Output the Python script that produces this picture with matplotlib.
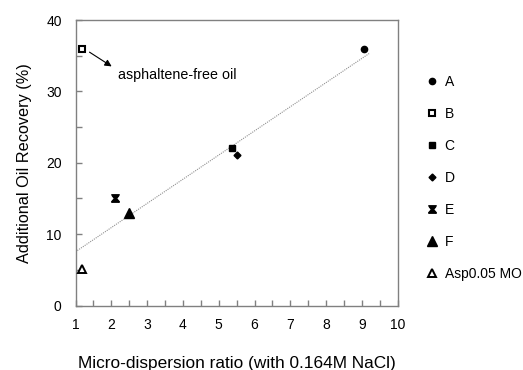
import matplotlib
matplotlib.use("Agg")
import matplotlib.pyplot as plt
from matplotlib.ticker import MultipleLocator
from matplotlib.path import Path

plt.rcParams['font.family'] = ['Liberation Sans', 'DejaVu Sans']

labels = ["A", "B", "C", "D", "E", "F", "Asp0.05 MO"]
x_vals = [9.07, 1.19, 5.37, 5.5, 2.10, 2.49, 1.19]
y_vals = [36.0, 36.0, 22.0, 21.1, 15.0, 13.0, 5.07]

trend_x = [1.05, 9.2]
trend_y = [7.7, 35.3]

arrow_start = (1.39, 35.5)
arrow_end = (2.01, 33.5)
note_pos = (2.18, 32.3)
note_text = "asphaltene-free oil"

xticks = list(range(1, 11))
yticks = [0, 10, 20, 30, 40]

bowx = Path([(-1, 1), (1, 1), (0.8, 0.6), (0.3, 0), (1, -0.8), (1, -1), (-1, -1), (-1, -0.8),
             (-0.3, 0), (-0.8, 0.6), (-1, 1)],
            [Path.MOVETO] + [Path.LINETO] * 9 + [Path.CLOSEPOLY])

styles = [
    dict(marker='o', ms=4.5, mfc='black', mec='black'),
    dict(marker='s', ms=4.2, mfc='white', mec='black', mew=1.5),
    dict(marker='s', ms=4.5, mfc='black', mec='black'),
    dict(marker='D', ms=3.5, mfc='black', mec='black'),
    dict(marker=bowx, ms=5.5, mfc='black', mec='black', mew=0.8),
    dict(marker='^', ms=6.5, mfc='black', mec='black'),
    dict(marker='^', ms=5.5, mfc='white', mec='black', mew=1.4),
]

fig = plt.figure(figsize=(5.23, 3.70), dpi=100)
ax = fig.add_axes([0.1444, 0.1743, 0.616, 0.7716])

ax.plot(trend_x, trend_y, color='#909090', lw=0.8, ls=(0, (1, 1)), zorder=1)

for lab, xv, yv, st in zip(labels, x_vals, y_vals, styles):
    ax.plot([xv], [yv], ls='none', label=lab, zorder=3, **st)

ax.annotate('', xy=arrow_end, xytext=arrow_start,
            arrowprops=dict(arrowstyle='-|>', color='black', lw=0.8,
                            mutation_scale=10, shrinkA=0, shrinkB=0))
ax.text(note_pos[0], note_pos[1], note_text, fontsize=10.3, va='center', ha='left')

ax.set_xlim(1, 10)
ax.set_ylim(0, 40)
ax.set_xticks(xticks)
ax.set_yticks(yticks)
ax.xaxis.set_minor_locator(MultipleLocator(0.5))
ax.yaxis.set_minor_locator(MultipleLocator(5))
ax.tick_params(which='both', direction='in', color='#808080', width=1)
ax.tick_params(which='major', length=4, labelsize=10)
ax.tick_params(which='minor', length=4)
ax.tick_params(axis='x', which='major', pad=9)
ax.tick_params(axis='y', which='major', pad=10)
for s in ax.spines.values():
    s.set_color('#808080')
    s.set_linewidth(1)

ax.set_xlabel("Micro-dispersion ratio (with 0.164M NaCl)", fontsize=12.4, labelpad=17)
ax.set_ylabel("Additional Oil Recovery (%)", fontsize=11.7, labelpad=10)

fig.legend(loc='upper left', bbox_to_anchor=(0.805, 0.813), frameon=False,
           fontsize=10, labelspacing=1.3, handlelength=0.8, handletextpad=0.5,
           borderaxespad=0, numpoints=1)

fig.savefig("out.png", dpi=100)
